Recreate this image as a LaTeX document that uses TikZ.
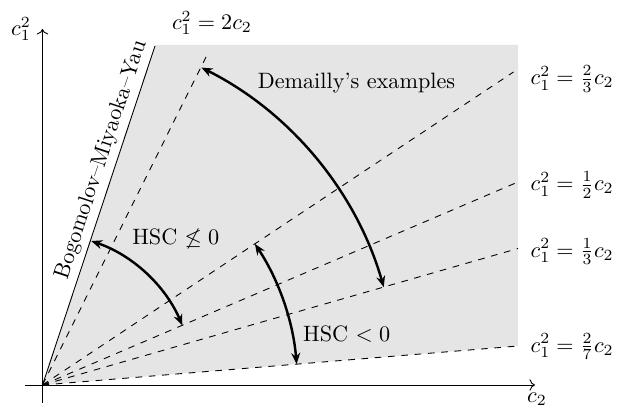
\documentclass[tikz,border=0pt]{standalone}
\usetikzlibrary{arrows.meta}
\begin{document}
\begin{tikzpicture}[x=0.45pt,y=0.45pt,line width=0.4pt,every node/.style={inner sep=1pt},
  sweep/.style={line width=1.1pt,{Stealth[length=5pt,width=4pt]}-{Stealth[length=5pt,width=4pt]}}]
\useasboundingbox (-42.5,-23) rectangle (574.5,385);
\coordinate (O) at (0,0);
\coordinate (BMY) at (112.5,339);
\coordinate (Two) at (166.5,334);
\coordinate (TwoThird) at (471,313);
\coordinate (Half) at (475.5,203);
\coordinate (Third) at (475.5,136.5);
\coordinate (TwoSeventh) at (475.5,39);
\fill[black!10] (O) -- (112.8,340) -- (475.5,340) -- (TwoSeventh) -- cycle;
\draw[->] (-17,0) -- (492.5,0) coordinate (Xend);
\draw[->] (0,-18) -- (0,356) coordinate (Yend);
\draw (O) -- (BMY) node[pos=0.65,sloped,above,inner sep=2pt] (bmylabel) {Bogomolov--Miyaoka--Yau};
\begin{scope}[dashed]
\draw (O) -- (Two);
\draw (O) -- (TwoThird);
\draw (O) -- (Half);
\draw (O) -- (Third);
\draw (O) -- (TwoSeventh);
\end{scope}
\draw[sweep] (71.3:152) arc[start angle=71.3,end angle=23.1,radius=152];
\draw[sweep] (63.4:355) arc[start angle=63.4,end angle=16.0,radius=355];
\draw[sweep] (33.6:255) arc[start angle=33.6,end angle=4.7,radius=255];
\node[anchor=east] (ylabel) at (-9,356) {$c_1^2$};
\node (xlabel) at (494.5,-14) {$c_2$};
\node (ltwo) at (169.5,362) {$c_1^2 = 2c_2$};
\node[anchor=west] (ltwothird) at (485.5,306) {$c_1^2 = \frac{2}{3}c_2$};
\node[anchor=west] (lhalf) at (485.5,200) {$c_1^2 = \frac{1}{2}c_2$};
\node[anchor=west] (lthird) at (485.5,133.5) {$c_1^2 = \frac{1}{3}c_2$};
\node[anchor=west] (ltwoseventh) at (485.5,38.5) {$c_1^2 = \frac{2}{7}c_2$};
\node (demailly) at (314,302) {Demailly's examples};
\node (hscnot) at (133.3,146) {HSC $\not\leq 0$};
\node (hscneg) at (304.2,51) {HSC $< 0$};
\end{tikzpicture}
\end{document}
